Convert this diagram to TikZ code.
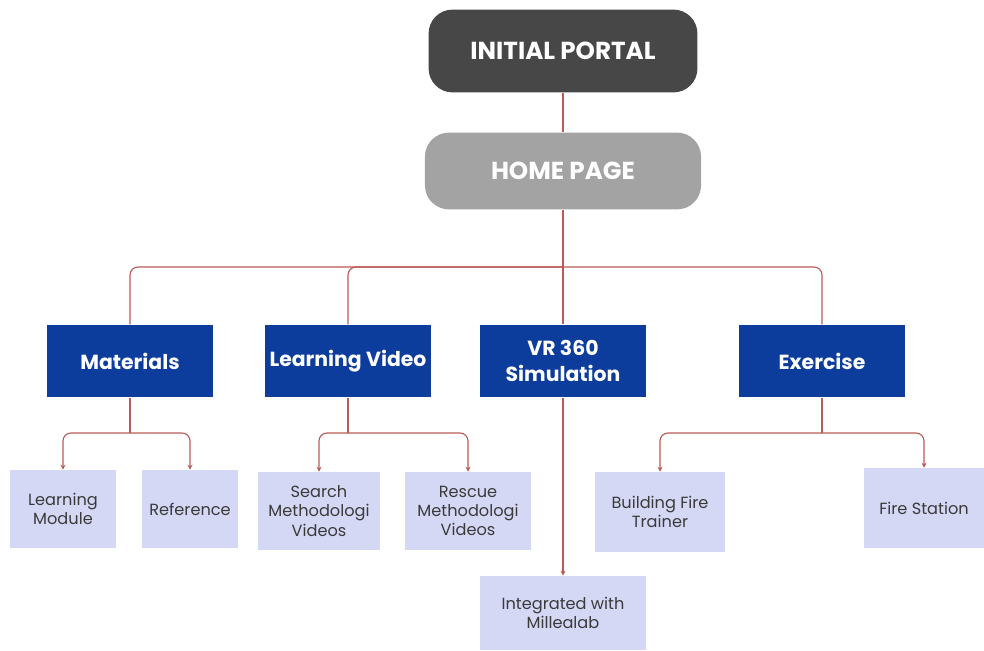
\documentclass[tikz,border=0pt]{standalone}
\usepackage{fontspec}
\setmainfont{Poppins}
\usetikzlibrary{positioning,arrows.meta}
\definecolor{portalgray}{HTML}{474747}
\definecolor{homegray}{HTML}{A3A3A3}
\definecolor{menublue}{HTML}{0D3D9C}
\definecolor{sublav}{HTML}{D5D8F5}
\definecolor{linered}{HTML}{B85A56}
\definecolor{subtext}{HTML}{3A3A3A}

\begin{document}
\begin{tikzpicture}[
        x=0.025cm, y=-0.025cm,
        >={Stealth[length=3.5pt,width=3.5pt]},
        portalnode/.style={rectangle, rounded corners=0.6cm, fill=portalgray, text=white, font=\bfseries\fontsize{17.5}{20}\selectfont, minimum width=6.72cm, minimum height=2.07cm},
        homenode/.style={rectangle, rounded corners=0.6cm, fill=homegray, text=white, font=\bfseries\fontsize{17.5}{20}\selectfont, minimum width=6.9cm, minimum height=1.92cm},
        menunode/.style={rectangle, fill=menublue, text=white, font=\bfseries\fontsize{14.5}{18}\selectfont, minimum width=4.15cm, minimum height=1.82cm, align=center, inner sep=0pt},
        subnode/.style={rectangle, fill=sublav, text=subtext, font=\fontsize{11.5}{13.8}\selectfont, minimum height=1.95cm, align=center, inner sep=1pt},
        connect/.style={draw=linered, line width=0.8pt, rounded corners=0.2cm}
    ]
    \useasboundingbox (0,0) rectangle (984,650);

    % top
    \node[portalnode] (portal) at (563,51) {INITIAL PORTAL};
    \node[homenode] (home) at (563,171) {HOME PAGE};

    % menu
    \node[menunode] (mat) at (130,361) {Materials};
    \node[menunode] (video) at (348,361) {Learning Video};
    \node[menunode] (vr) at (563,361) {VR 360\\Simulation};
    \node[menunode] (exer) at (822,361) {Exercise};

    % sub items
    \node[subnode, minimum width=2.65cm] (module) at (63,509) {Learning\\Module};
    \node[subnode, minimum width=2.38cm] (ref) at (190,509) {Reference};
    \node[subnode, minimum width=3.05cm] (search) at (319,511) {Search\\Methodologi\\Videos};
    \node[subnode, minimum width=3.15cm] (rescue) at (468,511) {Rescue\\Methodologi\\Videos};
    \node[subnode, minimum width=4.17cm, minimum height=1.85cm] (millea) at (563,613) {Integrated with\\Millealab};
    \node[subnode, minimum width=3.25cm, minimum height=2.0cm] (trainer) at (660,512) {Building Fire\\Trainer};
    \node[subnode, minimum width=3.0cm, minimum height=2.0cm] (station) at (924,508) {Fire Station};

    % junctions
    \coordinate (homej) at (563,267);
    \coordinate (matj) at (130,433);
    \coordinate (videoj) at (348,433);
    \coordinate (exerj) at (822,433);

    % lines
    \path[connect] (portal) -- (home);
    \path[connect] (home) -- (homej);
    \foreach \m in {mat, video, vr, exer} {
        \path[connect] (homej) -| (\m);
    }
    \path[connect] (mat) -- (matj);
    \path[connect, ->] (matj) -| (module);
    \path[connect, ->] (matj) -| (ref);
    \path[connect] (video) -- (videoj);
    \path[connect, ->] (videoj) -| (search);
    \path[connect, ->] (videoj) -| (rescue);
    \path[connect, ->] (vr) -- (millea);
    \path[connect] (exer) -- (exerj);
    \path[connect, ->] (exerj) -| (trainer);
    \path[connect, ->] (exerj) -| (station);

\end{tikzpicture}
\end{document}
